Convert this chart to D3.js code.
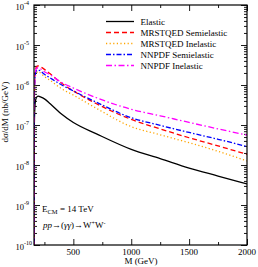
<!DOCTYPE html>
<html>
<head>
<meta charset="UTF-8">
<style>
  body { margin: 0; padding: 0; background: #fff; }
  svg { display: block; font-family: 'Liberation Serif', 'Times New Roman', serif; }
</style>
</head>
<body>
<svg id="chart" width="258" height="267"></svg>
<script src="https://d3js.org/d3.v7.min.js"></script>
<script>
// invariant mass grid (GeV)
const masses = [160, 163, 170, 180, 195, 210, 250, 300, 400, 500, 700, 1000, 1250, 1500, 1750, 2000];

// dσ/dM (nb/GeV)
const elastic     = [1e-11, 1.0e-7, 3.5e-7, 4.8e-7, 5.3e-7, 5.1e-7, 4.5e-7, 3.4e-7, 1.85e-7, 1.15e-7, 6.0e-8, 2.46e-8, 1.45e-8, 8.4e-9, 5.3e-9, 3.35e-9];
const mrstSemi    = [1e-11, 6.0e-7, 2.1e-6, 2.8e-6, 3.0e-6, 2.9e-6, 2.46e-6, 1.9e-6, 1.1e-6, 7.1e-7, 3.4e-7, 1.38e-7, 8.0e-8, 4.8e-8, 3.0e-8, 1.85e-8];
const mrstInel    = [1e-11, 4.0e-7, 1.5e-6, 2.0e-6, 2.14e-6, 2.05e-6, 1.62e-6, 1.3e-6, 8.0e-7, 5.6e-7, 2.6e-7, 9.1e-8, 5.7e-8, 3.6e-8, 2.2e-8, 1.26e-8];
const nnpdfSemi   = [1e-11, 5.0e-7, 1.7e-6, 2.25e-6, 2.37e-6, 2.3e-6, 1.85e-6, 1.5e-6, 1.0e-6, 7.1e-7, 3.7e-7, 1.52e-7, 9.8e-8, 6.5e-8, 4.4e-8, 2.9e-8];
const nnpdfInel   = [1e-11, 5.5e-7, 1.9e-6, 2.55e-6, 2.7e-6, 2.6e-6, 2.15e-6, 1.8e-6, 1.15e-6, 8.4e-7, 4.8e-7, 2.47e-7, 1.7e-7, 1.16e-7, 8.0e-8, 5.6e-8];

const seriesNames = ["Elastic", "MRSTQED Semielastic", "MRSTQED Inelastic", "NNPDF Semielastic", "NNPDF Inelastic"];
const seriesValues = [elastic, mrstSemi, mrstInel, nnpdfSemi, nnpdfInel];
const seriesColors = ["#000000", "#ff0000", "#ffa500", "#0000ff", "#ff00ff"];
const seriesDash = [null, "5,3", "1.2,2.4", "5,2,1.5,2", "6,2.5,1.5,2.5"];

const xTicks = [500, 1000, 1500, 2000];
const xMinor = [250, 750, 1250, 1750];
const yExps = [-10, -9, -8, -7, -6, -5, -4];

const pLeft = 34, pRight = 247, pTop = 5, pBottom = 245;

let svg = d3.select("#chart");

let x = d3.scaleLinear().domain([160, 2000]).range([pLeft, pRight]);
let y = d3.scaleLog().domain([1e-10, 1e-4]).range([pBottom, pTop]);

// minor log ticks
let yMajor = yExps.map(e => Math.pow(10, e));
let yMinor = [];
yExps.slice(0, -1).forEach(e => {
    for (let k = 2; k <= 9; k++) yMinor.push(k * Math.pow(10, e));
});

function tickAxis(axisFn, scale, values, size, transform) {
    let g = svg.append("g")
        .attr("transform", transform)
        .call(axisFn(scale).tickValues(values).tickSizeInner(size).tickSizeOuter(0).tickFormat(""));
    g.select(".domain").remove();
    g.selectAll("line").attr("stroke", "#000").attr("stroke-width", 0.9);
}

tickAxis(d3.axisBottom, x, xTicks, -6, `translate(0,${pBottom})`);
tickAxis(d3.axisBottom, x, xMinor, -3, `translate(0,${pBottom})`);
tickAxis(d3.axisTop, x, xTicks, -6, `translate(0,${pTop})`);
tickAxis(d3.axisTop, x, xMinor, -3, `translate(0,${pTop})`);
tickAxis(d3.axisLeft, y, yMajor, -6, `translate(${pLeft},0)`);
tickAxis(d3.axisLeft, y, yMinor, -3, `translate(${pLeft},0)`);
tickAxis(d3.axisRight, y, yMajor, -6, `translate(${pRight},0)`);
tickAxis(d3.axisRight, y, yMinor, -3, `translate(${pRight},0)`);

// clip region
svg.append("defs").append("clipPath").attr("id", "plot-clip")
    .append("rect")
    .attr("x", pLeft).attr("y", pTop)
    .attr("width", pRight - pLeft).attr("height", pBottom - pTop);

let line = d3.line()
    .x(d => x(d[0]))
    .y(d => y(d[1]))
    .curve(d3.curveMonotoneX);

let curves = svg.append("g").attr("clip-path", "url(#plot-clip)");
seriesValues.forEach((vals, i) => {
    curves.append("path")
        .datum(masses.map((m, j) => [m, vals[j]]))
        .attr("d", line)
        .attr("fill", "none")
        .attr("stroke", seriesColors[i])
        .attr("stroke-width", 1.3)
        .attr("stroke-dasharray", seriesDash[i]);
});

// frame
svg.append("rect")
    .attr("x", pLeft).attr("y", pTop)
    .attr("width", pRight - pLeft).attr("height", pBottom - pTop)
    .attr("fill", "none").attr("stroke", "#000").attr("stroke-width", 1.2);

// x tick labels
svg.append("g").selectAll("text")
    .data(xTicks)
    .enter().append("text")
    .attr("x", d => x(d))
    .attr("y", pBottom + 10)
    .attr("text-anchor", "middle")
    .attr("font-size", 9)
    .text(d => d);

// y tick labels 10^e
let yl = svg.append("g").selectAll("text")
    .data(yExps)
    .enter().append("text")
    .attr("x", 15.5)
    .attr("y", d => y(Math.pow(10, d)) + 4.5)
    .attr("font-size", 8.5);
yl.append("tspan").text("10");
yl.append("tspan").attr("dy", -4.5).attr("font-size", 6).text(d => "-" + Math.abs(d));

// axis titles
svg.append("text")
    .attr("transform", "translate(8,112) rotate(-90)")
    .attr("text-anchor", "middle")
    .attr("font-size", 9)
    .text("dσ/dM (nb/GeV)");

svg.append("text")
    .attr("x", 141).attr("y", 264)
    .attr("text-anchor", "middle")
    .attr("font-size", 9)
    .text("M (GeV)");

// legend
let legend = svg.append("g");
seriesNames.forEach((name, i) => {
    let ly = 21.5 + i * 11;
    legend.append("line")
        .attr("x1", 106).attr("x2", 134)
        .attr("y1", ly).attr("y2", ly)
        .attr("stroke", seriesColors[i])
        .attr("stroke-width", 1.3)
        .attr("stroke-dasharray", seriesDash[i]);
    legend.append("text")
        .attr("x", 140.5).attr("y", ly + 3)
        .attr("font-size", 9)
        .text(name);
});

// annotations
let ecm = svg.append("text").attr("x", 42).attr("y", 212).attr("font-size", 9);
ecm.append("tspan").text("E");
ecm.append("tspan").attr("dy", 2).attr("font-size", 6.5).text("CM");
ecm.append("tspan").attr("dy", -2).text(" = 14 TeV");

let proc = svg.append("text").attr("x", 43).attr("y", 228).attr("font-size", 9);
proc.append("tspan").attr("font-style", "italic").text("pp");
proc.append("tspan").text("→(");
proc.append("tspan").attr("font-style", "italic").text("γγ");
proc.append("tspan").text(")→W");
proc.append("tspan").attr("dy", -3.5).attr("font-size", 6).text("+");
proc.append("tspan").attr("dy", 3.5).text("W");
proc.append("tspan").attr("dy", -3.5).attr("font-size", 6).text("-");
</script>
</body>
</html>
